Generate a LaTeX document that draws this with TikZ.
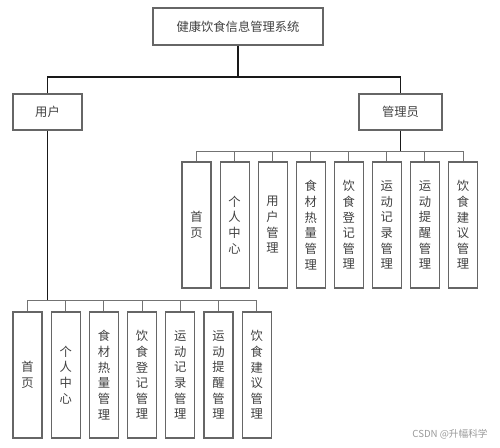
\documentclass[tikz,border=0pt]{standalone}
\usepackage{fontspec}
\newfontfamily\cjk{Noto Sans CJK SC}
\usetikzlibrary{positioning}
\tikzset{
sysbox/.style={rectangle,draw=black!60,line width=0.6pt,minimum width=3.4cm,minimum height=0.74cm,
  font=\cjk\fontsize{7}{9}\selectfont,text=black!75},
rolebox/.style={rectangle,draw=black!60,line width=0.6pt,minimum height=0.72cm,
  font=\cjk\fontsize{7}{9}\selectfont,text=black!75},
funcbox/.style={rectangle,draw=black!60,line width=0.6pt,minimum width=0.58cm,minimum height=2.52cm,
  inner sep=0pt,align=center,font=\cjk\fontsize{7}{8.9}\selectfont,text=black!75},
treeline/.style={black!90,line width=0.6pt},
subline/.style={black!55,line width=0.5pt}
}
\begin{document}
\begin{tikzpicture}[x=0.02cm,y=-0.02cm]
\useasboundingbox (0,0) rectangle (500,447);
% top level
\node[sysbox] (sys) at (238,26.5) {健康饮食信息管理系统};
\node[rolebox,minimum width=1.38cm] (user) at (47.5,112) {用户};
\node[rolebox,minimum width=1.66cm] (admin) at (400.5,112) {管理员};
\coordinate (bar) at (238,77);
\draw[treeline] (sys.south) -- (bar);
\draw[treeline] (user.north) |- (bar) -| (admin.north);
% admin functions
\coordinate (abar) at (400.5,151);
\draw[treeline] (admin.south) -- (abar);
\foreach \i/\t in {1/{首\\页},2/{个\\人\\中\\心},3/{用\\户\\管\\理},4/{食\\材\\热\\量\\管\\理},
  5/{饮\\食\\登\\记\\管\\理},6/{运\\动\\记\\录\\管\\理},7/{运\\动\\提\\醒\\管\\理},8/{饮\\食\\建\\议\\管\\理}}{
  \node[funcbox] (a\i) at ({196.5+38.07*(\i-1)},225) {\t};
  \draw[subline] (a\i.north) |- (abar);
}
% user functions
\coordinate (ubar) at (47.5,300);
\draw[treeline] (user.south) -- (ubar);
\foreach \i/\t in {1/{首\\页},2/{个\\人\\中\\心},3/{食\\材\\热\\量\\管\\理},4/{饮\\食\\登\\记\\管\\理},
  5/{运\\动\\记\\录\\管\\理},6/{运\\动\\提\\醒\\管\\理},7/{饮\\食\\建\\议\\管\\理}}{
  \node[funcbox] (u\i) at ({27.5+38.2*(\i-1)},375) {\t};
  \draw[subline] (u\i.north) |- (ubar);
}
\node[font=\cjk\fontsize{5.5}{7}\selectfont,text=black!40] (mark) at (450,434) {CSDN @升幅科学};
\end{tikzpicture}
\end{document}
